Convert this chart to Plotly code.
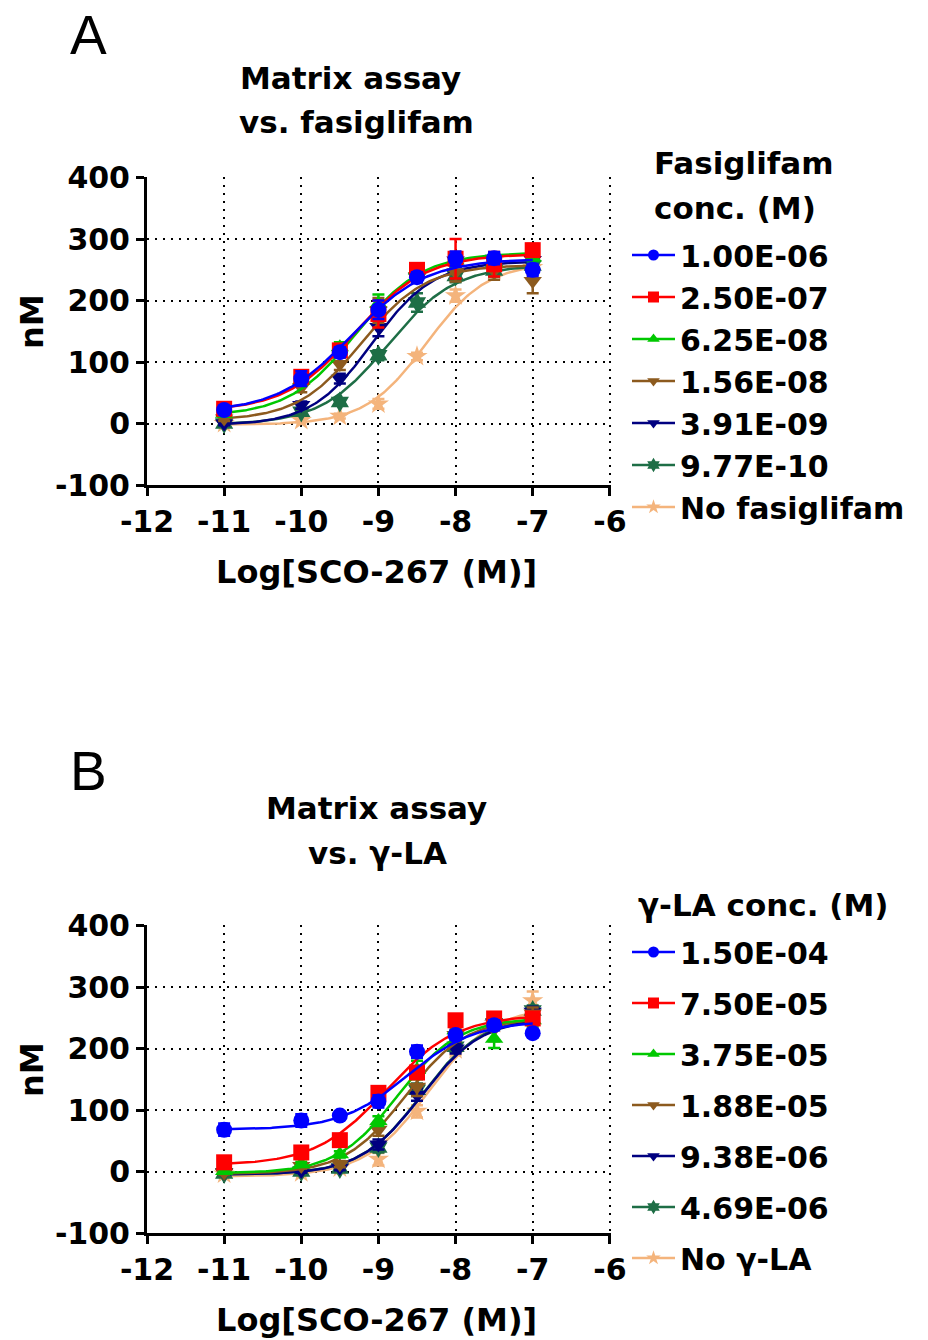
import numpy as np
import plotly.graph_objects as go

# ---------------- data ----------------
log_conc = [-11, -10, -9.5, -9, -8.5, -8, -7.5, -7]

names_a = ["1.00E-06", "2.50E-07", "6.25E-08", "1.56E-08", "3.91E-09", "9.77E-10", "No fasiglifam"]
names_b = ["1.50E-04", "7.50E-05", "3.75E-05", "1.88E-05", "9.38E-06", "4.69E-06", "No γ-LA"]

# Panel A mean values (nM)
a_blue = [22, 73, 116, 185, 238, 268, 269, 250]
a_red = [24, 76, 119, 178, 250, 268, 259, 282]
a_green = [16, 70, 124, 195, 249, 265, 262, 270]
a_brown = [8, 59, 97, 184, 240, 246, 249, 232]
a_navy = [0, 30, 73, 157, 238, 265, 268, 266]
a_dkgreen = [0, 19, 35, 111, 197, 240, 249, 257]
a_tan = [0, 5, 12, 32, 109, 208, 249, 254]
# Panel A SEM
a_blue_err = [6, 12, 8, 15, 8, 12, 10, 10]
a_red_err = [5, 8, 8, 22, 6, 32, 20, 10]
a_green_err = [5, 6, 8, 15, 6, 10, 10, 8]
a_brown_err = [4, 8, 10, 20, 8, 15, 15, 20]
a_navy_err = [3, 6, 8, 15, 8, 10, 10, 10]
a_dkgreen_err = [2, 4, 5, 8, 15, 10, 10, 10]
a_tan_err = [2, 3, 4, 8, 6, 10, 10, 10]

# Panel B mean values (nM)
b_blue = [68, 83, 91, 114, 195, 222, 238, 225]
b_red = [15, 31, 51, 128, 161, 246, 249, 249]
b_green = [1, 12, 28, 82, 165, 230, 216, 246]
b_brown = [-2, 9, 12, 68, 138, 222, 232, 257]
b_navy = [-2, 1, 6, 44, 125, 200, 241, 260]
b_dkgreen = [-3, 0, 5, 39, 133, 203, 241, 262]
b_tan = [-4, -2, 6, 20, 98, 198, 241, 278]
# Panel B SEM
b_blue_err = [10, 10, 6, 10, 10, 8, 8, 6]
b_red_err = [5, 6, 6, 8, 8, 8, 8, 8]
b_green_err = [3, 4, 5, 8, 15, 8, 15, 10]
b_brown_err = [3, 4, 5, 10, 15, 10, 20, 10]
b_navy_err = [2, 3, 4, 8, 10, 8, 8, 8]
b_dkgreen_err = [2, 3, 4, 8, 10, 8, 8, 8]
b_tan_err = [2, 3, 4, 10, 10, 8, 8, 15]

# 4-parameter logistic fit parameters
a_bottom = [18, 20, 12, 5, -3, -2, -2]
a_top = [268, 276, 278, 258, 264, 258, 262]
a_logec50 = [-9.35, -9.3, -9.3, -9.22, -9.08, -8.88, -8.38]
a_hill = [0.9, 0.95, 1.0, 1.05, 1.1, 1.0, 1.1]

b_bottom = [68, 10, -3, -4, -5, -5, -8]
b_top = [245, 255, 250, 250, 250, 252, 268]
b_logec50 = [-8.62, -8.9, -8.75, -8.65, -8.45, -8.45, -8.35]
b_hill = [1.0, 0.95, 1.1, 1.1, 1.1, 1.1, 1.05]

colors = ["#0000FF", "#FF0000", "#00C800", "#8C5A1E", "#000080", "#1E6E46", "#F4B47C"]
symbols = ["circle", "square", "triangle-up", "triangle-down", "triangle-down", "hexagram", "star"]

x_ticks = [-12, -11, -10, -9, -8, -7, -6]
x_ticktext = ["-12", "-11", "-10", "-9", "-8", "-7", "-6"]
y_ticks = [-100, 0, 100, 200, 300, 400]
y_ticktext = ["-100", "0", "100", "200", "300", "400"]

FONT = "DejaVu Sans, Liberation Sans, Arial"

a_means = [a_blue, a_red, a_green, a_brown, a_navy, a_dkgreen, a_tan]
a_errs = [a_blue_err, a_red_err, a_green_err, a_brown_err, a_navy_err, a_dkgreen_err, a_tan_err]
b_means = [b_blue, b_red, b_green, b_brown, b_navy, b_dkgreen, b_tan]
b_errs = [b_blue_err, b_red_err, b_green_err, b_brown_err, b_navy_err, b_dkgreen_err, b_tan_err]

fig = go.Figure()
xfit = np.linspace(-11, -7, 200)


def add_panel(means, errs, bottom, top, ec50, hill, names, xa, ya, legend, tag):
    n = len(means)
    # draw last series first so series 1 is on top
    for i in reversed(range(n)):
        yfit = bottom[i] + (top[i] - bottom[i]) / (1 + 10 ** ((ec50[i] - xfit) * hill[i]))
        fig.add_trace(go.Scatter(x=xfit, y=yfit, mode="lines", xaxis=xa, yaxis=ya,
                                 line=dict(color=colors[i], width=2.5), showlegend=False,
                                 hoverinfo="skip"))
        fig.add_trace(go.Scatter(x=log_conc, y=means[i], mode="markers", xaxis=xa, yaxis=ya,
                                 marker=dict(color=colors[i], symbol=symbols[i], size=16,
                                             line=dict(width=0)),
                                 error_y=dict(type="data", array=errs[i], color=colors[i],
                                              thickness=2.5, width=6),
                                 showlegend=False, name=names[i]))
    for i in range(n):
        fig.add_trace(go.Scatter(x=[None], y=[None], mode="lines+markers", xaxis=xa, yaxis=ya,
                                 name=names[i], legend=legend, legendgroup=tag + str(i),
                                 marker=dict(color=colors[i], symbol=symbols[i], size=11),
                                 line=dict(color=colors[i], width=2.5), showlegend=True))


add_panel(a_means, a_errs, a_bottom, a_top, a_logec50, a_hill, names_a, "x", "y", "legend", "a")
add_panel(b_means, b_errs, b_bottom, b_top, b_logec50, b_hill, names_b, "x2", "y2", "legend2", "b")

W, H = 928, 1340
xdom = [147 / W, 611 / W]
ydom_a = [1 - 485 / H, 1 - 177 / H]
ydom_b = [1 - 1233 / H, 1 - 925 / H]

axis_common = dict(showline=True, linecolor="black", linewidth=3, ticks="outside",
                   tickcolor="black", tickwidth=2.5, ticklen=8, showgrid=True,
                   gridcolor="black", gridwidth=2, griddash="2px,6px", zeroline=False,
                   tickfont=dict(family=FONT, size=30, color="black", weight="bold"))

xaxis_common = dict(axis_common, range=[-12, -5.985], tickvals=x_ticks, ticktext=x_ticktext)
yaxis_common = dict(axis_common, range=[-100, 401], tickvals=y_ticks, ticktext=y_ticktext)

fig.update_layout(
    width=W, height=H, margin=dict(l=0, r=0, t=0, b=0, autoexpand=False),
    paper_bgcolor="white", plot_bgcolor="white",
    xaxis=dict(xaxis_common, domain=xdom, anchor="y"),
    yaxis=dict(yaxis_common, domain=ydom_a, anchor="x"),
    xaxis2=dict(xaxis_common, domain=xdom, anchor="y2"),
    yaxis2=dict(yaxis_common, domain=ydom_b, anchor="x2"),
    legend=dict(x=627 / W, y=1 - 229 / H, xanchor="left", yanchor="top", itemwidth=43,
                font=dict(family=FONT, size=30, color="black", weight="bold"),
                traceorder="grouped", tracegroupgap=0, bgcolor="rgba(0,0,0,0)"),
    legend2=dict(x=627 / W, y=1 - 926 / H, xanchor="left", yanchor="top", itemwidth=43,
                 font=dict(family=FONT, size=30, color="black", weight="bold"),
                 traceorder="grouped", tracegroupgap=9, bgcolor="rgba(0,0,0,0)"),
    showlegend=True,
)


def ann(text, x, y, size=31, bold=True, xanchor="center", textangle=0):
    fig.add_annotation(text=text, x=x / W, y=1 - y / H, xref="paper", yref="paper",
                       showarrow=False, xanchor=xanchor, yanchor="middle", textangle=textangle,
                       font=dict(family=FONT if bold else "Liberation Sans, Arial", size=size,
                                 color="black", weight="bold" if bold else "normal"))


ann("A", 68, 35, size=55, bold=False, xanchor="left")
ann("B", 68, 771, size=55, bold=False, xanchor="left")
ann("Matrix assay", 350, 78)
ann("vs. fasiglifam", 356, 122)
ann("Matrix assay", 376, 808)
ann("vs. γ-LA", 377, 853)
ann("Fasiglifam", 652, 163, xanchor="left")
ann("conc. (M)", 652, 208, xanchor="left")
ann("γ-LA conc. (M)", 636, 905, xanchor="left")
ann("nM", 32, 322, size=32, textangle=-90)
ann("nM", 32, 1070, size=32, textangle=-90)
ann("Log[SCO-267 (M)]", 376, 572, size=32)
ann("Log[SCO-267 (M)]", 376, 1320, size=32)

fig.write_html("out.html")
